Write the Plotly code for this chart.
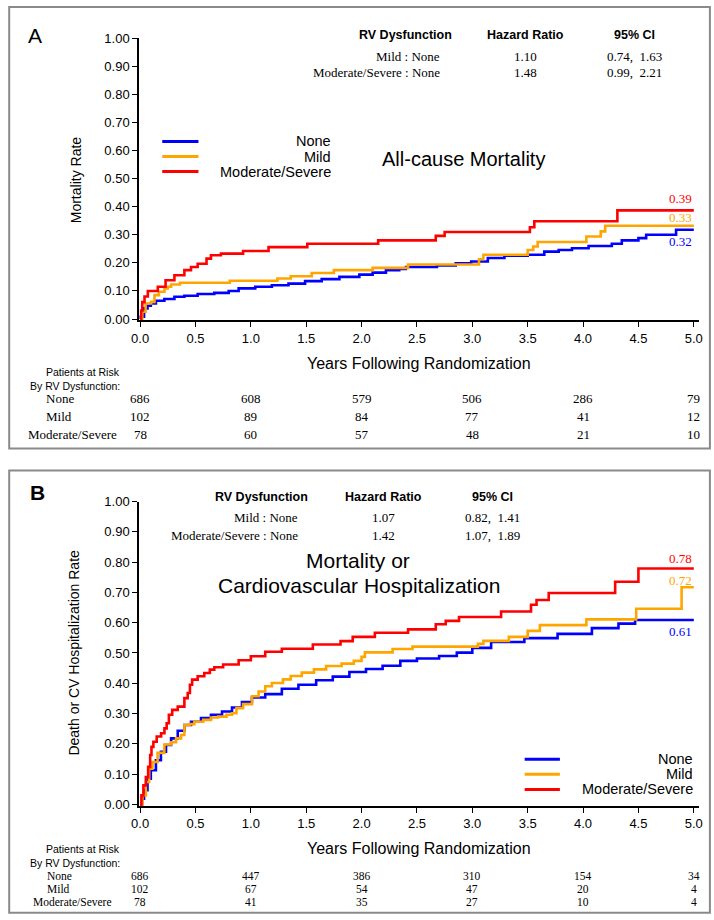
import plotly.graph_objects as go

W, H = 714, 920

# ---------------- Data ----------------
groups = ["None", "Mild", "Moderate/Severe"]
colors = ["#0000FF", "#FFA500", "#FF0000"]

# Panel A: All-cause mortality
a_none_t = [0, 0.006, 0.036, 0.067, 0.097, 0.143, 0.219, 0.31, 0.40, 0.52, 0.67, 0.80, 0.89, 1.04, 1.19,
            1.34, 1.49, 1.64, 1.80, 1.98, 2.10, 2.22, 2.34, 2.40, 2.68, 2.85, 2.99, 3.14, 3.29, 3.50,
            3.65, 3.78, 3.90, 4.05, 4.26, 4.35, 4.50, 4.57, 4.84, 5.0]
a_none_v = [0, 0.008, 0.038, 0.047, 0.055, 0.065, 0.071, 0.079, 0.083, 0.089, 0.093, 0.100, 0.109, 0.115, 0.120,
            0.126, 0.135, 0.142, 0.150, 0.158, 0.165, 0.174, 0.178, 0.185, 0.191, 0.198, 0.205, 0.217, 0.225, 0.229,
            0.240, 0.246, 0.252, 0.260, 0.268, 0.280, 0.288, 0.300, 0.318, 0.318]
a_mild_t = [0, 0.02, 0.05, 0.10, 0.13, 0.17, 0.22, 0.25, 0.28, 0.36, 0.81, 1.24, 1.36, 1.55, 1.75, 2.10,
            2.42, 3.06, 3.10, 3.50, 3.55, 3.59, 4.03, 4.16, 4.20, 5.0]
a_mild_v = [0, 0.026, 0.055, 0.061, 0.085, 0.097, 0.109, 0.115, 0.123, 0.129, 0.136, 0.144, 0.152, 0.164, 0.174, 0.182,
            0.194, 0.213, 0.229, 0.246, 0.258, 0.274, 0.294, 0.312, 0.332, 0.332]
a_mod_t = [0, 0.01, 0.02, 0.04, 0.07, 0.16, 0.23, 0.31, 0.40, 0.46, 0.52, 0.60, 0.64, 0.73, 0.93, 1.16,
           1.51, 2.15, 2.67, 2.75, 3.52, 3.56, 4.31, 5.0]
a_mod_v = [0, 0.03, 0.06, 0.08, 0.10, 0.115, 0.138, 0.156, 0.174, 0.185, 0.197, 0.215, 0.227, 0.233, 0.242, 0.256,
           0.268, 0.280, 0.296, 0.310, 0.327, 0.348, 0.387, 0.387]
a_end_labels = ["0.32", "0.33", "0.39"]

# Panel B: Death or CV hospitalization
b_none_t = [0, 0.018, 0.036, 0.067, 0.097, 0.143, 0.188, 0.234, 0.28, 0.34, 0.40, 0.46, 0.55, 0.64, 0.74,
            0.83, 0.92, 1.01, 1.13, 1.28, 1.43, 1.59, 1.74, 1.89, 2.04, 2.19, 2.35, 2.50, 2.70, 2.86,
            3.00, 3.17, 3.47, 3.77, 4.08, 4.32, 4.47, 5.0]
b_none_v = [0, 0.019, 0.047, 0.085, 0.113, 0.146, 0.174, 0.196, 0.218, 0.243, 0.262, 0.273, 0.285, 0.296, 0.307,
            0.320, 0.338, 0.353, 0.364, 0.382, 0.395, 0.410, 0.422, 0.437, 0.447, 0.458, 0.474, 0.482, 0.490, 0.501,
            0.517, 0.536, 0.549, 0.563, 0.582, 0.597, 0.609, 0.609]
b_mild_t = [0, 0.021, 0.052, 0.082, 0.112, 0.158, 0.219, 0.28, 0.325, 0.37, 0.40, 0.447, 0.49, 0.57, 0.64,
            0.705, 0.78, 0.83, 0.87, 0.93, 1.01, 1.07, 1.13, 1.19, 1.29, 1.36, 1.46, 1.57, 1.68, 1.82,
            1.93, 2.00, 2.03, 2.28, 2.46, 3.05, 3.10, 3.33, 3.50, 3.61, 4.03, 4.48, 4.89, 5.0]
b_mild_v = [0, 0.03, 0.074, 0.118, 0.14, 0.17, 0.198, 0.205, 0.218, 0.229, 0.262, 0.265, 0.273, 0.279, 0.287,
            0.29, 0.296, 0.301, 0.318, 0.331, 0.357, 0.373, 0.39, 0.401, 0.413, 0.424, 0.435, 0.446, 0.457, 0.465,
            0.474, 0.487, 0.502, 0.513, 0.521, 0.530, 0.540, 0.553, 0.573, 0.592, 0.611, 0.646, 0.717, 0.717]
b_mod_t = [0, 0.012, 0.03, 0.052, 0.073, 0.091, 0.103, 0.12, 0.15, 0.19, 0.22, 0.24, 0.26, 0.29, 0.34,
           0.40, 0.43, 0.45, 0.47, 0.52, 0.58, 0.63, 0.67, 0.75, 0.89, 1.00, 1.13, 1.28, 1.56, 1.81,
           1.92, 2.12, 2.42, 2.67, 2.76, 2.88, 3.26, 3.53, 3.58, 3.69, 4.29, 4.50, 5.0]
b_mod_v = [0, 0.03, 0.063, 0.09, 0.124, 0.163, 0.19, 0.207, 0.224, 0.235, 0.251, 0.268, 0.296, 0.312, 0.323,
           0.351, 0.368, 0.395, 0.412, 0.423, 0.434, 0.445, 0.453, 0.462, 0.476, 0.489, 0.504, 0.514, 0.528, 0.539,
           0.553, 0.567, 0.578, 0.595, 0.606, 0.619, 0.637, 0.659, 0.675, 0.698, 0.735, 0.779, 0.779]
b_end_labels = ["0.61", "0.72", "0.78"]

# Hazard ratio tables
hr_comparisons = ["Mild : None", "Moderate/Severe : None"]
a_hr = ["1.10", "1.48"]
a_ci = ["0.74,  1.63", "0.99,  2.21"]
b_hr = ["1.07", "1.42"]
b_ci = ["0.82,  1.41", "1.07,  1.89"]

# Patients at risk
risk_times = [0, 1, 2, 3, 4, 5]
a_risk = {"None": [686, 608, 579, 506, 286, 79],
          "Mild": [102, 89, 84, 77, 41, 12],
          "Moderate/Severe": [78, 60, 57, 48, 21, 10]}
b_risk = {"None": [686, 447, 386, 310, 154, 34],
          "Mild": [102, 67, 54, 47, 20, 4],
          "Moderate/Severe": [78, 41, 35, 27, 10, 4]}

x_ticks = [i * 0.5 for i in range(11)]
y_ticks = [i * 0.1 for i in range(11)]

# ---------------- Helpers ----------------
# Target positions are given in picture pixels; compensate for the small
# padding/scale applied when the page is photographed.
OX, SX = 7.8, 0.978
OY, SY = 7.9, 0.983

def px(x):
    return min(max(((x - OX) / SX) / W, 0), 1)

def py(y):
    return min(max(1 - ((y - OY) / SY) / H, 0), 1)

SANS = "Liberation Sans, Arial, sans-serif"
SERIF = "Liberation Serif, Times New Roman, serif"

fig = go.Figure()

panel_a = [(a_none_t, a_none_v), (a_mild_t, a_mild_v), (a_mod_t, a_mod_v)]
panel_b = [(b_none_t, b_none_v), (b_mild_t, b_mild_v), (b_mod_t, b_mod_v)]

for (t, v), c, g in zip(panel_a, colors, groups):
    fig.add_trace(go.Scatter(x=t, y=v, mode="lines", name=g, showlegend=False,
                             line=dict(color=c, width=2.6, shape="hv"),
                             xaxis="x", yaxis="y", hoverinfo="skip"))
for (t, v), c, g in zip(panel_b, colors, groups):
    fig.add_trace(go.Scatter(x=t, y=v, mode="lines", name=g, showlegend=False,
                             line=dict(color=c, width=2.6, shape="hv"),
                             xaxis="x2", yaxis="y2", hoverinfo="skip"))

# axis geometry (picture pixel positions)
x_left, x_right = 137.9, 694.5
xr = [-0.01, 5.05]
a_top, a_bot = 39.0, 320.4
b_top, b_bot = 501.0, 804.5
yr = [-0.005, 1.0]

axis_common = dict(showgrid=False, zeroline=False, showline=True, linecolor="black", linewidth=1.5,
                   ticks="outside", ticklen=5, tickwidth=1.3, tickcolor="black",
                   tickfont=dict(family=SANS, size=13, color="black"), fixedrange=True)

fig.update_layout(
    width=W, height=H, margin=dict(l=0, r=0, t=0, b=0),
    paper_bgcolor="white", plot_bgcolor="white", showlegend=False,
    xaxis=dict(domain=[px(x_left), px(x_right)], range=xr, anchor="y",
               tickvals=x_ticks, tickformat=".1f", **axis_common),
    yaxis=dict(domain=[py(a_bot), py(a_top)], range=yr, anchor="x",
               tickvals=y_ticks, tickformat=".2f", **axis_common),
    xaxis2=dict(domain=[px(x_left), px(x_right)], range=xr, anchor="y2",
                tickvals=x_ticks, tickformat=".1f", **axis_common),
    yaxis2=dict(domain=[py(b_bot), py(b_top)], range=yr, anchor="x2",
                tickvals=y_ticks, tickformat=".2f", **axis_common),
)

ann = []
shapes = []

def text(x, y, s, size=13, family=SANS, color="black", xanchor="center", bold=False, angle=0,
         xref="paper", yref="paper"):
    if bold:
        s = "<b>" + s + "</b>"
    ann.append(dict(x=x, y=y, xref=xref, yref=yref, text=s, showarrow=False,
                    xanchor=xanchor, yanchor="middle", textangle=angle,
                    font=dict(family=family, size=size, color=color)))

# Panel borders
for (y0, y1) in [(8, 448), (470, 911)]:
    shapes.append(dict(type="rect", xref="paper", yref="paper", x0=px(9), x1=px(705),
                       y0=py(y1), y1=py(y0), line=dict(color="#8a8a8a", width=2)))

# Panel letters
text(px(35), py(36), "A", size=21)
text(px(37), py(492), "B", size=21, bold=True)

# Axis titles
text(px(75), py(180), "Mortality Rate", size=14, angle=-90)
text(px(73), py(652), "Death or CV Hospitalization Rate", size=14, angle=-90)
text(px(416), py(363), "Years Following Randomization", size=16)
text(px(416), py(847), "Years Following Randomization", size=16)

# Chart titles
text(px(460), py(159), "All-cause Mortality", size=20)
text(px(355), py(560), "Mortality or", size=21)
text(px(356), py(585), "Cardiovascular Hospitalization", size=21)

# Hazard ratio tables
def hr_table(ys, rv_c, lab_r, hr_c, ci_c, hr, ci):
    text(px(rv_c), py(ys[0]), "RV Dysfunction", size=12.5, bold=True)
    text(px(hr_c), py(ys[0]), "Hazard Ratio", size=12.5, bold=True)
    text(px(ci_c), py(ys[0]), "95% CI", size=12.5, bold=True)
    for i, comp in enumerate(hr_comparisons):
        text(px(lab_r), py(ys[i + 1]), comp, size=13, family=SERIF, xanchor="right")
        text(px(hr_c), py(ys[i + 1]), hr[i], size=13, family=SERIF)
        text(px(ci_c), py(ys[i + 1]), ci[i], size=13, family=SERIF)

hr_table([36, 57, 73], 403, 439, 522, 630, a_hr, a_ci)
hr_table([496, 517, 535], 260, 298, 381, 489, b_hr, b_ci)

# Legends (swatch + right aligned label)
def legend(x0, x1, lab_r, ys):
    for g, c, y in zip(groups, colors, ys):
        shapes.append(dict(type="line", xref="paper", yref="paper", x0=px(x0), x1=px(x1),
                           y0=py(y), y1=py(y), line=dict(color=c, width=3)))
        text(px(lab_r), py(y), g, size=14.5, xanchor="right")

legend(161, 197, 331, [142, 157, 172])
legend(521, 556, 690, [758, 773, 788])

# End-of-curve value labels (data coordinates)
def end_labels(curves, labels, xref, yref, shifts):
    for (t, v), lab, c, sh in zip(curves, labels, colors, shifts):
        ann.append(dict(x=t[-1], y=v[-1], xref=xref, yref=yref, text=lab, showarrow=False,
                        xanchor="right", yanchor="middle", yshift=sh,
                        font=dict(family=SERIF, size=13, color=c)))

end_labels(panel_a, a_end_labels, "x", "y", [-12, 8, 12])
end_labels(panel_b, b_end_labels, "x2", "y2", [-12, 7, 10])

# Patients at risk tables
def risk_table(xref, y_head1, y_head2, row_ys, risk, fsize):
    text(px(121), py(y_head1), "Patients at Risk", size=10.5, xanchor="right")
    text(px(121), py(y_head2), "By RV Dysfunction:", size=10.5, xanchor="right")
    label_x = [59, 58, 72]
    for g, y, lx in zip(groups, row_ys, label_x):
        text(px(lx), py(y), g, size=fsize, family=SERIF)
        for t, n in zip(risk_times, risk[g]):
            ann.append(dict(x=t, y=py(y), xref=xref, yref="paper", text=str(n), showarrow=False,
                            xanchor="center", yanchor="middle",
                            font=dict(family=SERIF, size=fsize, color="black")))

risk_table("x", 372, 386, [398, 416, 434], a_risk, 13)
risk_table("x2", 847, 861, [874, 887, 900], b_risk, 11.5)

fig.update_layout(annotations=ann, shapes=shapes)
fig.write_html("out.html", config={"displayModeBar": False},
               post_script="document.body.style.margin='0';document.body.style.padding='0';"
                           "document.documentElement.style.overflow='hidden';")
